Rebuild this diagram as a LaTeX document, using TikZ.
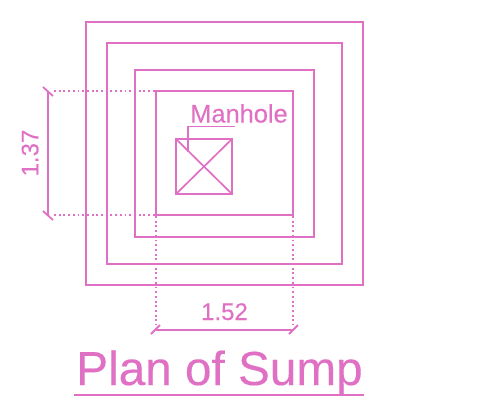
\documentclass[tikz,border=0pt]{standalone}
\usepackage{fontspec}
\setmainfont[FakeBold=0.25]{Liberation Sans}
\definecolor{pk}{HTML}{E070C4}
\tikzset{
  ln/.style={draw=pk,line width=1.8pt},
  thin ln/.style={draw=pk,line width=1.7pt},
  dots/.style={draw=pk,line width=1.9pt,dash pattern=on 1.9pt off 2.8pt},
  lbl/.style={text=pk,inner sep=0pt,anchor=base}
}
\begin{document}
\begin{tikzpicture}[x=1pt,y=-1pt]
\useasboundingbox (0,0) rectangle (494,413);
% nested plan
\draw[ln] (86,22) rectangle (363,285);
\draw[ln] (107,43) rectangle (342,264);
\draw[ln] (135,70) rectangle (314,237);
\draw[ln] (156,91) rectangle (293,215);
% manhole
\draw[ln] (176,139) rectangle (232,194);
\draw[thin ln] (176,139) -- (232,194) (232,139) -- (176,194);
\draw[thin ln] (188,152) -- (188,126.5) -- (235,126.5);
\node[lbl,font=\fontsize{25.4}{25.4}\selectfont] (manhole) at (239,122.5) {Manhole};
% left dimension
\draw[dots] (54,91) -- (156,91);
\draw[dots] (54,215) -- (156,215);
\draw[ln] (47.7,91) -- (47.7,215);
\draw[ln] (43,87) -- (53,96);
\draw[ln] (43,211) -- (53,220);
\node[lbl,font=\fontsize{24}{24}\selectfont,rotate=90] (h) at (38.3,153) {1.37};
% bottom dimension
\draw[dots] (156,216) -- (156,325);
\draw[dots] (293,216) -- (293,325);
\draw[ln] (156,330) -- (293,330);
\draw[ln] (151,334) -- (160,325);
\draw[ln] (289,334) -- (298,325);
\node[lbl,font=\fontsize{24}{24}\selectfont] (w) at (224.5,320) {1.52};
% title
\node[lbl,font=\fontsize{47.7}{47.7}\selectfont] (title) at (219.5,385) {Plan of Sump};
\draw[ln] (73.5,395) -- (364,395);
\end{tikzpicture}
\end{document}
